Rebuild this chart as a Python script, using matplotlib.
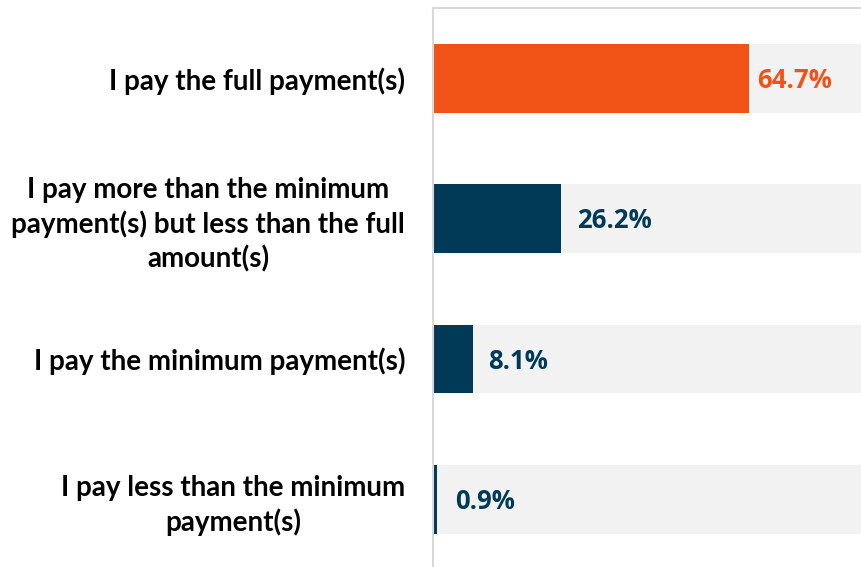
import matplotlib.pyplot as plt

# Payment behaviour survey results
categories = [
    "I pay the full payment(s)",
    "I pay more than the minimum\npayment(s) but less than the full\namount(s)",
    "I pay the minimum payment(s)",
    "I pay less than the minimum\npayment(s)",
]
shares = [64.7, 26.2, 8.1, 0.9]
value_labels = ["64.7%", "26.2%", "8.1%", "0.9%"]

ORANGE = "#F15216"
NAVY = "#003A57"
colors = [ORANGE, NAVY, NAVY, NAVY]
label_gap_pt = [5.8, 11.5, 11.5, 12.5]

fig = plt.figure(figsize=(8.62, 5.67), dpi=100)
ax = fig.add_axes([433 / 862, 1 - 569.7 / 567, 1 - 433 / 862, 561.7 / 567])

pos = list(range(len(categories)))
ax.barh(pos, [100] * len(pos), height=0.49, color="#F2F2F2", zorder=1)
ax.barh(pos, shares, height=0.49, color=colors, zorder=2)

for p, v, lab, c, gap in zip(pos, shares, value_labels, colors, label_gap_pt):
    ax.annotate(lab, (v, p), xytext=(gap, -1.5), textcoords="offset points",
                va="center", ha="left", color=c, fontsize=18.5,
                fontweight="bold", family="Open Sans", zorder=3)

ax.set_xlim(0, 87.8)
ax.set_ylim(3.5, -0.5)
ax.set_yticks(pos)
ax.set_yticklabels(categories, fontsize=20, fontweight="bold", family="Lato",
                   linespacing=1.33)
for t in ax.get_yticklabels():
    t.set_multialignment("center")
ax.tick_params(axis="y", length=0, pad=20)
ax.set_xticks([])

for side in ["right", "bottom"]:
    ax.spines[side].set_visible(False)
for side in ["left", "top"]:
    ax.spines[side].set_color("#D9D9D9")
    ax.spines[side].set_linewidth(1.5)

fig.savefig("out.png", dpi=100)
